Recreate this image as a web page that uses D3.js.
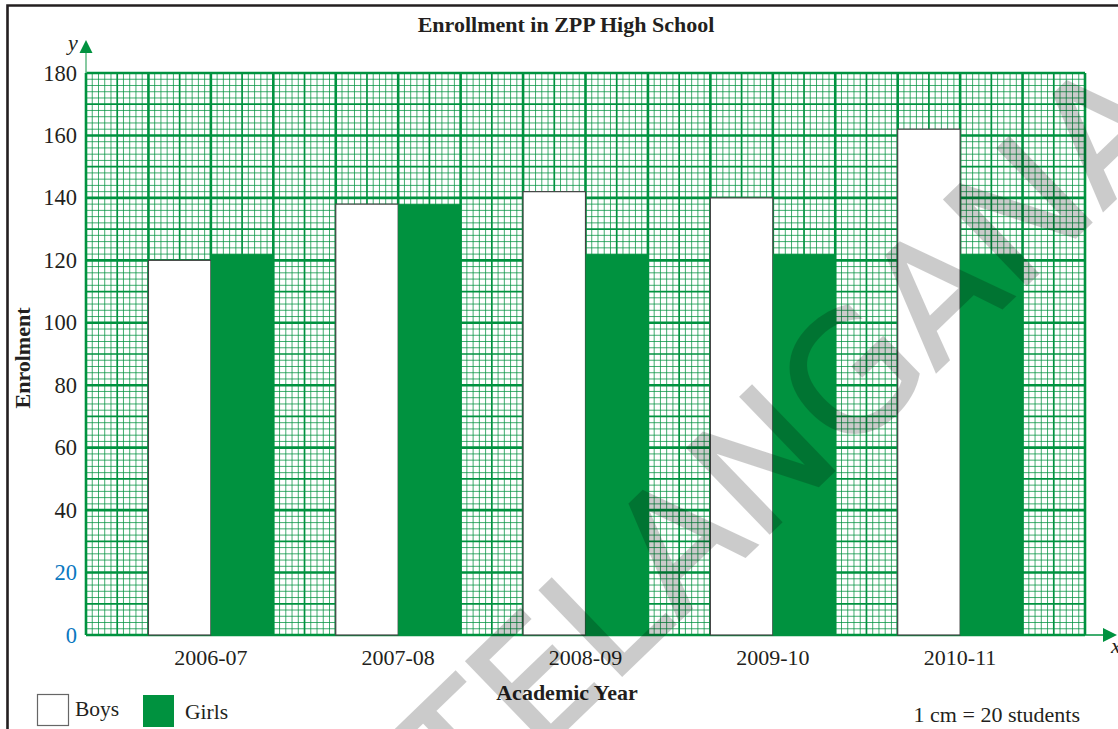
<!DOCTYPE html>
<html><head><meta charset="utf-8">
<script src="https://cdn.jsdelivr.net/npm/d3@7"></script>
<style>body{margin:0;background:#fff}svg{display:block}</style>
</head><body><svg id="c" width="1118" height="729"></svg>
<script>
const categories = ["2006-07","2007-08","2008-09","2009-10","2010-11"];
const series = ["Boys","Girls"];
const boys = [120,138,142,140,162];
const girls = [122,138,122,122,122];
const yTicks = [0,20,40,60,80,100,120,140,160,180];
const title = "Enrollment in ZPP High School";
const xTitle = "Academic Year";
const yTitle = "Enrolment";
const scaleNote = "1 cm = 20 students";
const watermark = "TELANGANA";

const pLeft=86, pRight=1085, pTop=73, pBottom=635;
const green="#00923f", ink="#231f20", serif="'Liberation Serif','Times New Roman',serif";
const svg=d3.select("#c");
const y=d3.scaleLinear([0,180],[pBottom,pTop]);
const xcm=d3.scaleLinear([0,16],[pLeft,pRight]);
const ycm=d3.scaleLinear([0,9],[pBottom,pTop]);
const x=d3.scaleBand(categories,[xcm(1),pRight]).paddingInner(1/3).paddingOuter(1/6).align(0);
const xs=d3.scaleBand(series,[0,x.bandwidth()]);

// graph paper grid
const grid=svg.append("g");
const levels=[
  {f:i=>i%5!==0, w:1, o:0.75},
  {f:i=>i%5===0 && i%10!==0, w:1.7, o:1},
  {f:i=>i%10===0, w:2.6, o:1}
];
levels.forEach(L=>{
  grid.append("g").selectAll("line").data(d3.range(0,161).filter(L.f)).join("line")
    .attr("x1",i=>xcm(i/10)).attr("x2",i=>xcm(i/10)).attr("y1",pTop).attr("y2",pBottom)
    .attr("stroke",green).attr("stroke-width",L.w).attr("stroke-opacity",L.o);
  grid.append("g").selectAll("line").data(d3.range(0,91).filter(L.f)).join("line")
    .attr("y1",i=>ycm(i/10)).attr("y2",i=>ycm(i/10)).attr("x1",pLeft).attr("x2",pRight)
    .attr("stroke",green).attr("stroke-width",L.w).attr("stroke-opacity",L.o);
});

// axes arrows
svg.append("line").attr("x1",pLeft).attr("x2",pLeft).attr("y1",pTop).attr("y2",50)
  .attr("stroke","#5fb883").attr("stroke-width",1.5);
svg.append("path").attr("d",`M${pLeft},40L${pLeft-6.5},53L${pLeft+6.5},53Z`).attr("fill",green);
svg.append("line").attr("x1",pRight).attr("x2",1104).attr("y1",pBottom).attr("y2",pBottom)
  .attr("stroke",green).attr("stroke-width",1.5);
svg.append("path").attr("d",`M1117,${pBottom}L1103,${pBottom-7}L1103,${pBottom+7}Z`).attr("fill",green);
svg.append("text").attr("x",68).attr("y",50).attr("font-family",serif).attr("font-style","italic")
  .attr("font-size",22).attr("fill",ink).text("y");
svg.append("text").attr("x",1111).attr("y",653).attr("font-family",serif).attr("font-style","italic")
  .attr("font-size",22).attr("fill",ink).text("x");

// bars
const data=categories.map((c,i)=>({c,Boys:boys[i],Girls:girls[i]}));
const gb=svg.append("g");
gb.selectAll("rect.b").data(data).join("rect").attr("class","b")
  .attr("x",d=>x(d.c)+xs("Boys")).attr("y",d=>y(d.Boys))
  .attr("width",xs.bandwidth()).attr("height",d=>y(0)-y(d.Boys))
  .attr("fill","#fff").attr("stroke","#444").attr("stroke-width",1.2);
gb.selectAll("rect.g").data(data).join("rect").attr("class","g")
  .attr("x",d=>x(d.c)+xs("Girls")).attr("y",d=>y(d.Girls))
  .attr("width",xs.bandwidth()).attr("height",d=>y(0)-y(d.Girls))
  .attr("fill",green);

// y tick labels
svg.append("g").selectAll("text").data(yTicks).join("text")
  .attr("x",77).attr("y",d=>y(d)+7.5).attr("text-anchor","end")
  .attr("font-family",serif).attr("font-size",22.5)
  .attr("fill",d=>d<=20?"#0a78c0":ink).text(d=>d);

// x labels
svg.append("g").selectAll("text").data(categories).join("text")
  .attr("x",d=>x(d)+x.bandwidth()/2).attr("y",665).attr("text-anchor","middle")
  .attr("font-family",serif).attr("font-size",22).attr("fill",ink).text(d=>d);

// titles
svg.append("text").attr("x",566).attr("y",32).attr("text-anchor","middle")
  .attr("font-family",serif).attr("font-weight","bold").attr("font-size",22).attr("fill",ink).text(title);
svg.append("text").attr("x",567).attr("y",700).attr("text-anchor","middle")
  .attr("font-family",serif).attr("font-weight","bold").attr("font-size",22).attr("fill",ink).text(xTitle);
svg.append("text").attr("transform","translate(30,358) rotate(-90)").attr("text-anchor","middle")
  .attr("font-family",serif).attr("font-weight","bold").attr("font-size",22).attr("fill",ink).text(yTitle);

// legend
svg.append("rect").attr("x",37.5).attr("y",694.5).attr("width",31).attr("height",31)
  .attr("fill","#fff").attr("stroke","#666").attr("stroke-width",1.2);
svg.append("text").attr("x",75).attr("y",716).attr("font-family",serif).attr("font-size",21.5).attr("fill",ink).text(series[0]);
svg.append("rect").attr("x",143).attr("y",695).attr("width",31).attr("height",32).attr("fill",green);
svg.append("text").attr("x",185).attr("y",719).attr("font-family",serif).attr("font-size",21.5).attr("fill",ink).text(series[1]);
svg.append("text").attr("x",1080).attr("y",722).attr("text-anchor","end")
  .attr("font-family",serif).attr("font-size",22).attr("fill",ink).text(scaleNote);

// border
svg.append("path").attr("d","M7.5,740L7.5,5.5L1130,5.5").attr("fill","none").attr("stroke",ink).attr("stroke-width",2.6);

// watermark
svg.append("g").attr("opacity",0.2).append("text").attr("transform","translate(466,826) rotate(-44)")
  .attr("font-family","'DejaVu Sans',sans-serif").attr("font-size",162)
  .attr("fill","#000").attr("stroke","#000").attr("stroke-width",2.5).text(watermark);
</script></body></html>
